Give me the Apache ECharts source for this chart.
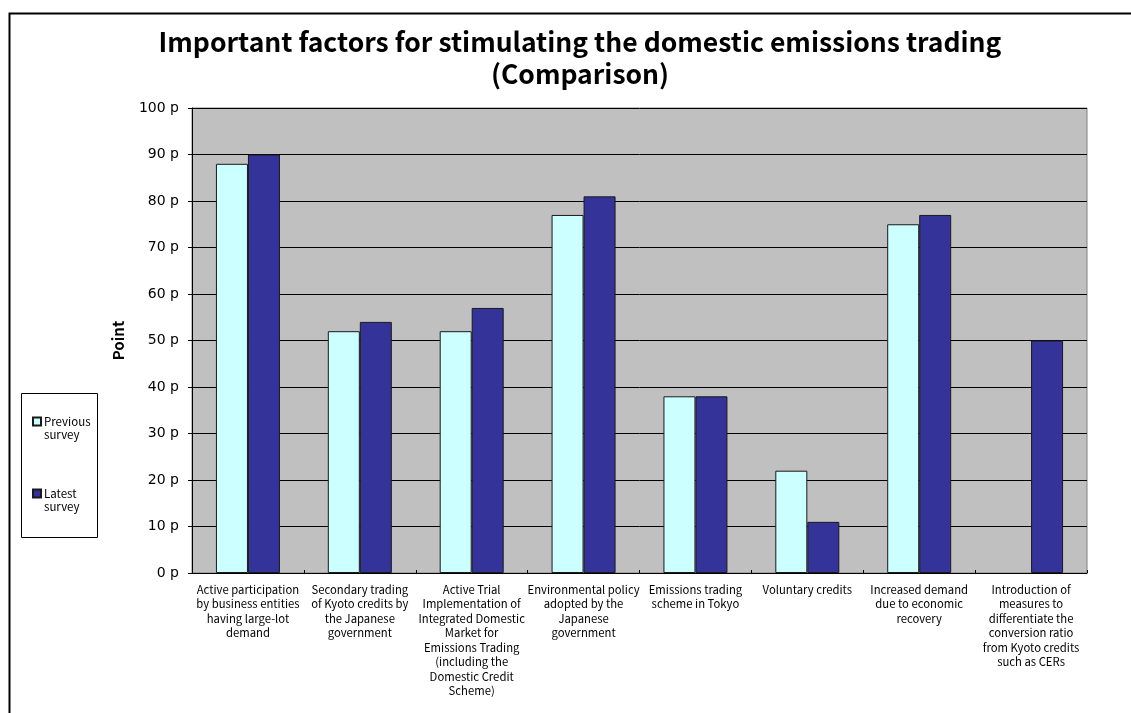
<!DOCTYPE html>
<html>
<head>
<meta charset="utf-8">
<script src="https://cdn.jsdelivr.net/npm/echarts@6/dist/echarts.min.js"></script>
<style>
  html, body { margin: 0; padding: 0; background: #ffffff; }
  #chart { width: 1131px; height: 713px; }
</style>
</head>
<body>
<div id="chart"></div>
<script>
// Survey factors and scores (points)
const categories = [
  'Active participation\nby business entities\nhaving large-lot\ndemand',
  'Secondary trading\nof Kyoto credits by\nthe Japanese\ngovernment',
  'Active Trial\nImplementation of\nIntegrated Domestic\nMarket for\nEmissions Trading\n(including the\nDomestic Credit\nScheme)',
  'Environmental policy\nadopted by the\nJapanese\ngovernment',
  'Emissions trading\nscheme in Tokyo',
  'Voluntary credits',
  'Increased demand\ndue to economic\nrecovery',
  'Introduction of\nmeasures to\ndifferentiate the\nconversion ratio\nfrom Kyoto credits\nsuch as CERs'
];
const previousSurvey = [88, 52, 52, 77, 38, 22, 75, null];
const latestSurvey = [90, 54, 57, 81, 38, 11, 77, 50];
const seriesNames = ['Previous\nsurvey', 'Latest\nsurvey'];
const yTickSuffix = ' p';

const FONT = '"Noto Sans CJK JP", "Noto Sans", sans-serif';
const chart = echarts.init(document.getElementById('chart'), null, { renderer: 'canvas' });

chart.setOption({
  animation: false,
  backgroundColor: '#ffffff',
  textStyle: { fontFamily: FONT, color: '#000' },
  title: {
    text: 'Important factors for stimulating the domestic emissions trading\n(Comparison)',
    left: 575,
    textAlign: 'center',
    top: 21,
    textStyle: { fontFamily: FONT, fontSize: 26.5, fontWeight: 'bold', color: '#000', lineHeight: 32 }
  },
  graphic: [
    // outer frame
    { type: 'rect', left: 7, top: 11, z: 0,
      shape: { width: 1200, height: 800 },
      style: { fill: 'none', stroke: '#000', lineWidth: 2 } },
    // legend box
    { type: 'rect', left: 21, top: 393, z: 1,
      shape: { width: 76, height: 144 },
      style: { fill: '#fff', stroke: '#000', lineWidth: 1 } }
  ],
  legend: {
    orient: 'vertical',
    left: 32,
    top: 402,
    padding: 0,
    itemWidth: 8,
    itemHeight: 8,
    itemGap: 33,
    icon: 'rect',
    z: 5,
    // leading blank line keeps the swatch level with the first text line
    formatter: name => '\n' + name,
    textStyle: { fontFamily: FONT, fontSize: 11.5, color: '#000', lineHeight: 13, padding: [0, 0, 0, -2] },
    data: seriesNames
  },
  grid: {
    left: 192, top: 108, width: 895, height: 465,
    show: true, backgroundColor: '#C0C0C0', borderColor: '#808080', borderWidth: 1
  },
  xAxis: {
    type: 'category',
    data: categories,
    axisLine: { lineStyle: { color: '#000', width: 1 } },
    axisTick: { show: true, inside: true, length: 3, lineStyle: { color: '#000' } },
    axisLabel: { interval: 0, fontFamily: FONT, fontSize: 11.3, color: '#000', lineHeight: 14.5, margin: 9, align: 'center' }
  },
  yAxis: {
    type: 'value',
    min: 0, max: 100, interval: 10,
    name: 'Point',
    nameLocation: 'middle',
    nameRotate: 90,
    nameGap: 66,
    nameTextStyle: { fontFamily: FONT, fontSize: 15, fontWeight: 'bold', color: '#000' },
    axisLine: { show: true, lineStyle: { color: '#000', width: 1 } },
    axisTick: { show: true, length: 4, lineStyle: { color: '#000' } },
    axisLabel: { formatter: v => v + yTickSuffix, fontFamily: '"DejaVu Sans", sans-serif', fontSize: 14, color: '#000', margin: 13 },
    splitLine: { show: true, lineStyle: { color: '#000', width: 1 } }
  },
  series: [
    { name: seriesNames[0], type: 'bar', data: previousSurvey, barWidth: 32, barGap: '0%',
      itemStyle: { color: '#CCFFFF', borderColor: '#1a1a1a', borderWidth: 1 } },
    { name: seriesNames[1], type: 'bar', data: latestSurvey, barWidth: 32, barGap: '0%',
      itemStyle: { color: '#333399', borderColor: '#1a1a1a', borderWidth: 1 } }
  ]
});
</script>
</body>
</html>
